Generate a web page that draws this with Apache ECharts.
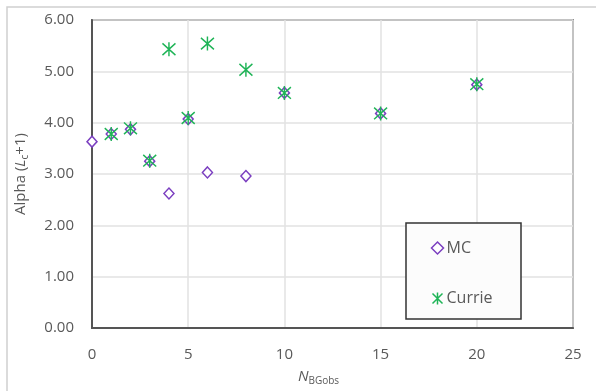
<!DOCTYPE html>
<html><head><meta charset="utf-8">
<script src="https://cdn.jsdelivr.net/npm/echarts@6/dist/echarts.min.js"></script>
<style>html,body{margin:0;padding:0;background:#fff}#c{width:596px;height:391px}</style>
</head><body><div id="c"></div>
<script>
const mcX = [0, 1, 2, 3, 4, 5, 6, 8, 10, 15, 20];
const mcY = [3.63, 3.78, 3.87, 3.25, 2.62, 4.07, 3.03, 2.96, 4.58, 4.18, 4.74];
const currieX = [1, 2, 3, 4, 5, 6, 8, 10, 15, 20];
const currieY = [3.78, 3.89, 3.26, 5.43, 4.09, 5.54, 5.03, 4.58, 4.18, 4.75];
const xTicks = [0, 5, 10, 15, 20, 25];
const yTicks = [0, 1, 2, 3, 4, 5, 6];

const FONT = '"Open Sans", "Liberation Sans", sans-serif';
const GRAY = '#595959';
const PURPLE = '#7b3fc0';
const GREEN = '#1fb457';
const starPath = 'path://M0,0L10,10M10,0L0,10M5,-1L5,11';

const chart = echarts.init(document.getElementById('c'));
chart.setOption({
  animation: false,
  backgroundColor: '#fff',
  grid: { left: 92, right: 23, top: 20, bottom: 57, show: true, borderColor: '#3a3a3a', borderWidth: 1.5 },
  xAxis: {
    type: 'value', min: 0, max: 25, interval: 5,
    axisLine: { show: true, lineStyle: { color: '#555', width: 2 } },
    axisTick: { show: false },
    splitLine: { show: true, lineStyle: { color: '#e2e2e2', width: 1.5 } },
    axisLabel: { color: GRAY, fontFamily: FONT, fontSize: 15, margin: 19,
      formatter: v => xTicks.includes(v) ? String(v) : '' },
    name: '{i|N}{s|BGobs}', nameLocation: 'middle', nameGap: 40,
    nameTextStyle: { padding: [0, 28, 0, 0], rich: {
      i: { fontFamily: FONT, fontSize: 15, fontStyle: 'italic', color: GRAY },
      s: { fontFamily: FONT, fontSize: 10, color: GRAY, padding: [8, 0, 0, 0] }
    } }
  },
  yAxis: {
    type: 'value', min: 0, max: 6, interval: 1,
    axisLine: { show: true, lineStyle: { color: '#555', width: 2 } },
    axisTick: { show: false },
    splitLine: { show: true, lineStyle: { color: '#e2e2e2', width: 1.5 } },
    axisLabel: { color: GRAY, fontFamily: FONT, fontSize: 15, margin: 18,
      formatter: v => yTicks.includes(v) ? v.toFixed(2) : '' },
    name: '{a|Alpha (}{i|L}{s|c}{a|+1)}', nameLocation: 'middle', nameGap: 62, nameRotate: 90,
    nameTextStyle: { rich: {
      a: { fontFamily: FONT, fontSize: 15, color: GRAY },
      i: { fontFamily: FONT, fontSize: 15, fontStyle: 'italic', color: GRAY },
      s: { fontFamily: FONT, fontSize: 10, color: GRAY, padding: [8, 0, 0, 0] }
    } }
  },
  legend: {
    show: true, orient: 'vertical', left: 430, top: 240, z: 20,
    padding: 0, itemGap: 34,
    itemWidth: 12, itemHeight: 12,
    textStyle: { fontFamily: FONT, fontSize: 16, color: GRAY, padding: [0, 0, 0, -2] },
    data: [
      { name: 'MC', icon: 'diamond', itemStyle: { color: '#fff', borderColor: PURPLE, borderWidth: 1.5 } },
      { name: 'Currie', icon: starPath, itemStyle: { color: 'none', borderColor: GREEN, borderWidth: 1.5 } }
    ]
  },
  graphic: [
    { type: 'rect', shape: { x: 7, y: 7, width: 620, height: 420 }, style: { fill: 'none', stroke: '#d0d0d0', lineWidth: 1.5 }, silent: true, z: -10 },
    { type: 'rect', shape: { x: 406, y: 223, width: 115, height: 96 }, style: { fill: '#fcfcfc', stroke: '#333', lineWidth: 1.5 }, silent: true, z: 3 }
  ],
  series: [
    { name: 'MC', type: 'scatter', symbol: 'diamond', symbolSize: [10, 11],
      itemStyle: { color: '#fff', borderColor: PURPLE, borderWidth: 1.5, opacity: 1 },
      data: mcX.map((x, i) => [x, mcY[i]]), z: 2 },
    { name: 'Currie', type: 'scatter', symbol: starPath, symbolSize: [13, 14],
      itemStyle: { color: 'none', borderColor: GREEN, borderWidth: 1.5, opacity: 1 },
      data: currieX.map((x, i) => [x, currieY[i]]), z: 2 }
  ]
});
</script></body></html>
